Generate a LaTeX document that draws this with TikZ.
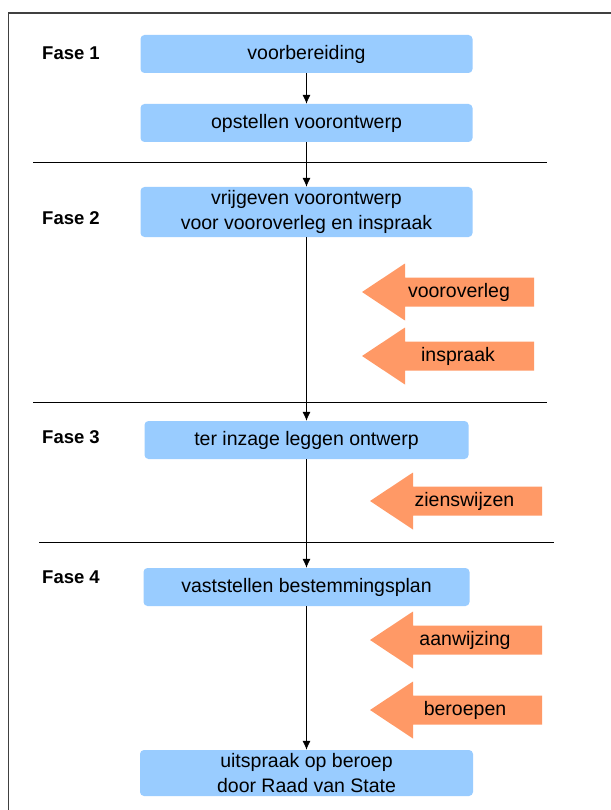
\documentclass[tikz,border=0pt]{standalone}
\usepackage{fontspec}
\setmainfont{Liberation Sans}
\usetikzlibrary{arrows.meta}
\definecolor{boxblue}{HTML}{99CCFF}
\definecolor{arrorange}{HTML}{FF9966}
\begin{document}
\begin{tikzpicture}[x=1pt,y=-1pt,
  box/.style={fill=boxblue, rounded corners=4pt, font=\fontsize{19.5}{25}\selectfont, align=center, inner sep=0pt},
  fase/.style={font=\bfseries\fontsize{18.5}{22}\selectfont, anchor=west, inner sep=0pt},
  flow/.style={-{Latex[length=9pt,width=8pt]}, line width=0.8pt},
  sepline/.style={line width=0.9pt},
  lbl/.style={font=\fontsize{19.5}{24}\selectfont, inner sep=0pt},
  ora/.pic={\fill[arrorange] (0,0) -- (43,-28.5) -- (43,-14.5) -- (172,-14.5) -- (172,14.5) -- (43,14.5) -- (43,28.5) -- cycle;}]
\useasboundingbox (0,0) rectangle (610,810);
\fill[white] (0,0) rectangle (610,810);
% frame
\draw[line width=1.5pt, color=black!75] (8.5,830) -- (8.5,13) -- (640,13);
% separators
\draw[sepline] (33,162) -- (547,162);
\draw[sepline] (33,402) -- (547,402);
\draw[sepline] (39,542) -- (554,542);
% phase labels
\node[fase] (f1) at (42,53) {Fase 1};
\node[fase] (f2) at (42,218) {Fase 2};
\node[fase] (f3) at (42,437) {Fase 3};
\node[fase] (f4) at (42,577) {Fase 4};
% boxes
\node[box, minimum width=332pt, minimum height=38pt] (b1) at (306.5,54) {voorbereiding};
\node[box, minimum width=332pt, minimum height=38pt] (b2) at (306.5,123) {opstellen voorontwerp};
\node[box, minimum width=332pt, minimum height=50pt] (b3) at (306.5,212) {vrijgeven voorontwerp\\voor vooroverleg en inspraak};
\node[box, minimum width=324pt, minimum height=38pt] (b4) at (306.5,440) {ter inzage leggen ontwerp};
\node[box, minimum width=326pt, minimum height=38pt] (b5) at (306.5,587) {vaststellen bestemmingsplan};
\node[box, minimum width=333pt, minimum height=46pt] (b6) at (306.5,773) {uitspraak op beroep\\door Raad van State};
% flow
\draw[flow] (b1) -- (b2);
\draw[flow] (b2) -- (b3);
\draw[flow] (b3) -- (b4);
\draw[flow] (b4) -- (b5);
\draw[flow] (b5) -- (b6);
% orange arrows
\pic at (362,292) {ora};
\node[lbl] (a1) at (459,292) {vooroverleg};
\pic at (362,356) {ora};
\node[lbl] (a2) at (458,356) {inspraak};
\pic at (370,501) {ora};
\node[lbl] (a3) at (464.5,501) {zienswijzen};
\pic at (370,640) {ora};
\node[lbl] (a4) at (465,640) {aanwijzing};
\pic at (370,710) {ora};
\node[lbl] (a5) at (465,710) {beroepen};
\end{tikzpicture}
\end{document}
